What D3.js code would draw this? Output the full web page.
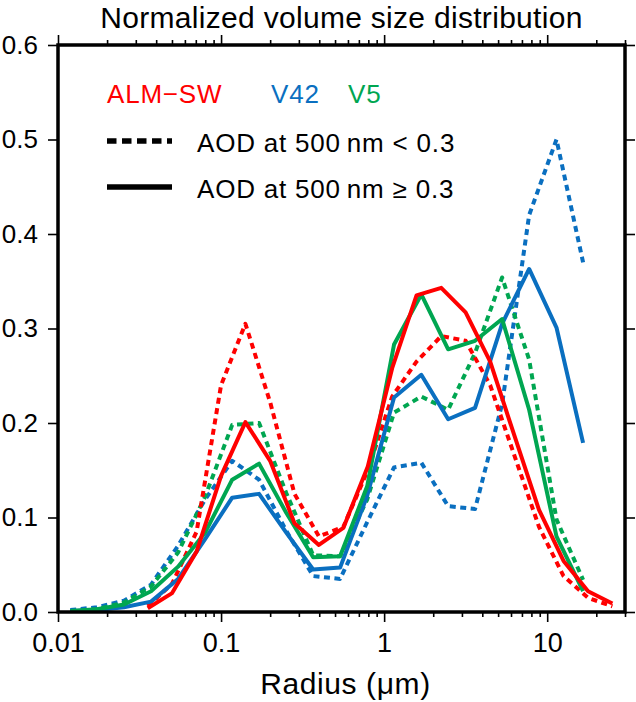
<!DOCTYPE html>
<html lang="en">
<head>
<meta charset="UTF-8">
<title>Normalized volume size distribution</title>
<script src="https://d3js.org/d3.v7.min.js"></script>
<style>
  body { margin: 0; background: #fff; }
  svg text { font-family: "Liberation Sans", Arial, Helvetica, sans-serif; fill: #000; }
</style>
</head>
<body>
<svg width="636" height="702"></svg>
<script>
// radius grids (µm)
const radiusAlm = [0.0355, 0.0501, 0.0708, 0.1, 0.141, 0.2, 0.282, 0.398, 0.562, 0.794,
                   1.12, 1.58, 2.24, 3.16, 4.47, 6.31, 8.91, 12.6, 17.8, 25.1];
const radiusAeronet = [0.0119, 0.0173, 0.0254, 0.0372, 0.0545, 0.0798, 0.117, 0.171, 0.251, 0.367,
                       0.537, 0.787, 1.15, 1.69, 2.47, 3.61, 5.29, 7.75, 11.4, 16.6];

// AOD(500nm) < 0.3  (dotted)
const almLow  = [0.006, 0.030, 0.085, 0.240, 0.305, 0.222, 0.125, 0.080, 0.090, 0.150,
                 0.228, 0.265, 0.292, 0.287, 0.240, 0.165, 0.090, 0.038, 0.015, 0.006];
const v42Low  = [0.002, 0.005, 0.012, 0.029, 0.070, 0.119, 0.160, 0.140, 0.086, 0.038,
                 0.035, 0.095, 0.153, 0.158, 0.112, 0.109, 0.220, 0.420, 0.500, 0.370];
const v5Low   = [0.001, 0.003, 0.010, 0.027, 0.063, 0.122, 0.198, 0.200, 0.126, 0.060,
                 0.059, 0.119, 0.211, 0.228, 0.214, 0.274, 0.354, 0.267, 0.098, 0.034];

// AOD(500nm) >= 0.3  (solid)
const almHigh = [0.004, 0.020, 0.064, 0.144, 0.201, 0.160, 0.094, 0.071, 0.089, 0.154,
                 0.258, 0.335, 0.343, 0.317, 0.265, 0.186, 0.108, 0.054, 0.022, 0.009];
const v42High = [0.001, 0.002, 0.005, 0.011, 0.035, 0.077, 0.121, 0.125, 0.084, 0.045,
                 0.047, 0.123, 0.227, 0.251, 0.204, 0.216, 0.305, 0.363, 0.301, 0.179];
const v5High  = [0.001, 0.003, 0.008, 0.022, 0.048, 0.084, 0.140, 0.157, 0.105, 0.058,
                 0.059, 0.133, 0.283, 0.336, 0.278, 0.287, 0.310, 0.214, 0.080, 0.022];

const xMajor = [0.01, 0.1, 1, 10];
const yTicks = [0, 0.1, 0.2, 0.3, 0.4, 0.5, 0.6];

const red = "#ff0000", blue = "#0a6fc0", green = "#00a651";

const svg = d3.select("svg");
const frame = { left: 58, right: 625, top: 45, bottom: 612 };

const x = d3.scaleLog().domain([0.01, 30]).range([frame.left, frame.right]);
const y = d3.scaleLinear().domain([0, 0.6]).range([frame.bottom, frame.top]);

// minor ticks 2..9 per decade
const xMinor = x.ticks().filter(v => xMajor.indexOf(v) < 0 && v <= 30);

function styleAxis(g) {
  g.select(".domain").remove();
  g.selectAll(".tick line").attr("stroke", "#000").attr("stroke-width", 1.6);
}

// bottom
svg.append("g").attr("transform", `translate(0,${frame.bottom})`)
   .call(d3.axisBottom(x).tickValues(xMinor).tickSize(5).tickFormat(""))
   .call(styleAxis);
svg.append("g").attr("transform", `translate(0,${frame.bottom})`)
   .call(d3.axisBottom(x).tickValues(xMajor).tickSize(10).tickPadding(11)
           .tickFormat(d => d < 1 ? String(d) : d3.format("d")(d)))
   .call(styleAxis)
   .selectAll("text").style("font-size", "27px");

// top
svg.append("g").attr("transform", `translate(0,${frame.top})`)
   .call(d3.axisTop(x).tickValues(xMinor).tickSize(5).tickFormat(""))
   .call(styleAxis);
svg.append("g").attr("transform", `translate(0,${frame.top})`)
   .call(d3.axisTop(x).tickValues(xMajor).tickSize(10).tickFormat(""))
   .call(styleAxis);

// left
svg.append("g").attr("transform", `translate(${frame.left},0)`)
   .call(d3.axisLeft(y).tickValues(yTicks).tickSize(10).tickPadding(10).tickFormat(d3.format(".1f")))
   .call(styleAxis)
   .selectAll("text").style("font-size", "26px");

// right
svg.append("g").attr("transform", `translate(${frame.right},0)`)
   .call(d3.axisRight(y).tickValues(yTicks).tickSize(10).tickFormat(""))
   .call(styleAxis);

// data lines
const series = [
  { r: radiusAeronet, v: v42Low,  color: blue,  dash: "6,4.5" },
  { r: radiusAeronet, v: v5Low,   color: green, dash: "6,4.5" },
  { r: radiusAlm,     v: almLow,  color: red,   dash: "6,4.5" },
  { r: radiusAeronet, v: v42High, color: blue,  dash: null },
  { r: radiusAeronet, v: v5High,  color: green, dash: null },
  { r: radiusAlm,     v: almHigh, color: red,   dash: null }
];

const line = d3.line().x(d => x(d[0])).y(d => y(d[1]));

svg.append("defs").append("clipPath").attr("id", "plot")
   .append("rect")
   .attr("x", frame.left).attr("y", frame.top)
   .attr("width", frame.right - frame.left).attr("height", frame.bottom - frame.top);

const plot = svg.append("g").attr("clip-path", "url(#plot)");
series.forEach(s => {
  plot.append("path")
      .datum(d3.zip(s.r, s.v))
      .attr("fill", "none")
      .attr("stroke", s.color)
      .attr("stroke-width", 4)
      .attr("stroke-linejoin", "round")
      .attr("stroke-dasharray", s.dash)
      .attr("d", line);
});

// frame
svg.append("rect")
   .attr("x", frame.left).attr("y", frame.top)
   .attr("width", frame.right - frame.left).attr("height", frame.bottom - frame.top)
   .attr("fill", "none").attr("stroke", "#000").attr("stroke-width", 3.5);

// title and axis label
svg.append("text")
   .attr("x", (frame.left + frame.right) / 2).attr("y", 28)
   .attr("text-anchor", "middle").style("font-size", "30px").style("letter-spacing", "0.3px")
   .text("Normalized volume size distribution");

svg.append("text")
   .attr("x", (frame.left + frame.right) / 2 + 4).attr("y", 694)
   .attr("text-anchor", "middle").style("font-size", "30px").style("letter-spacing", "0.6px")
   .text("Radius (μm)");

// legend
const legend = svg.append("g");
const legendFont = "26px";
legend.append("text").attr("x", 107).attr("y", 103)
      .style("fill", red).style("font-size", legendFont).style("letter-spacing", "0.8px").text("ALM−SW");
legend.append("text").attr("x", 271).attr("y", 103)
      .style("fill", blue).style("font-size", legendFont).style("letter-spacing", "0.8px").text("V42");
legend.append("text").attr("x", 348).attr("y", 103)
      .style("fill", green).style("font-size", legendFont).style("letter-spacing", "0.8px").text("V5");

legend.append("line").attr("x1", 107).attr("x2", 172).attr("y1", 141).attr("y2", 141)
      .attr("stroke", "#000").attr("stroke-width", 5.5).attr("stroke-dasharray", "9.5,5.5");
legend.append("line").attr("x1", 107).attr("x2", 172).attr("y1", 187).attr("y2", 187)
      .attr("stroke", "#000").attr("stroke-width", 5.5);

legend.append("text").attr("x", 197).attr("y", 152)
      .style("font-size", legendFont).style("letter-spacing", "0.8px")
      .text("AOD at 500\u2009nm < 0.3");
legend.append("text").attr("x", 197).attr("y", 198)
      .style("font-size", legendFont).style("letter-spacing", "0.8px")
      .text("AOD at 500\u2009nm \u2265 0.3");
</script>
</body>
</html>
